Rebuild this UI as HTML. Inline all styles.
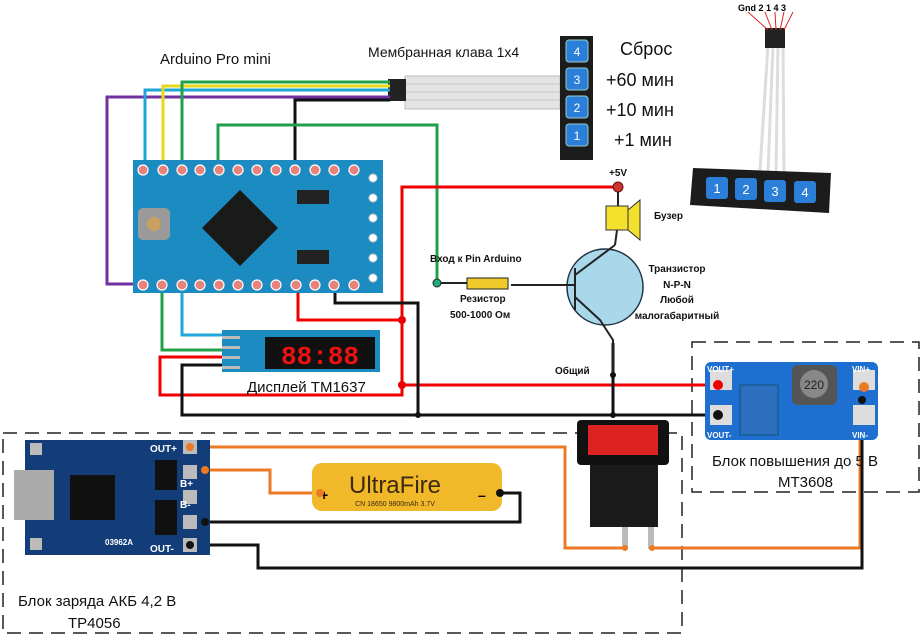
<!DOCTYPE html>
<html><head><meta charset="utf-8"><style>
html,body{margin:0;padding:0;background:#fff;width:921px;height:635px;overflow:hidden}
svg{display:block;font-family:"Liberation Sans","DejaVu Sans",sans-serif}
</style></head><body>
<svg width="921" height="635" viewBox="0 0 921 635">
<g fill="none" stroke="#222" stroke-width="1.5" stroke-dasharray="14,8">
<rect x="3" y="433" width="679" height="200"/>
<rect x="692" y="342" width="227" height="150"/>
</g>
<rect x="405" y="76" width="155" height="33" fill="#e4e4e4" stroke="#bbb"/>
<g stroke="#c8c8c8"><line x1="405" y1="84" x2="560" y2="84"/><line x1="405" y1="92" x2="560" y2="92"/><line x1="405" y1="100" x2="560" y2="100"/></g>
<rect x="388" y="79" width="18" height="22" fill="#222"/>
<rect x="560" y="36" width="33" height="124" fill="#1c1c1c"/>
<g fill="#2b7fd8" stroke="#9cc" stroke-width="1">
<rect x="566" y="40" width="22" height="22" rx="3"/><rect x="566" y="68" width="22" height="22" rx="3"/><rect x="566" y="96" width="22" height="22" rx="3"/><rect x="566" y="124" width="22" height="22" rx="3"/>
</g>
<g fill="#fff" font-size="12" text-anchor="middle"><text x="577" y="56">4</text><text x="577" y="84">3</text><text x="577" y="112">2</text><text x="577" y="140">1</text></g>
<g stroke="#ddd" stroke-width="3"><line x1="768" y1="45" x2="760" y2="170"/><line x1="773" y1="45" x2="768" y2="172"/><line x1="778" y1="45" x2="776" y2="173"/><line x1="783" y1="45" x2="784" y2="174"/></g>
<rect x="765" y="28" width="20" height="20" fill="#222"/>
<g stroke="#d22" stroke-width="1"><line x1="748" y1="12" x2="768" y2="30"/><line x1="765" y1="12" x2="772" y2="30"/><line x1="775" y1="12" x2="776" y2="30"/><line x1="784" y1="12" x2="780" y2="30"/><line x1="793" y1="12" x2="784" y2="30"/></g>
<text x="738" y="11" font-size="9" font-weight="bold">Gnd 2 1 4 3</text>
<polygon points="693,168 831,173 829,213 690,205" fill="#1c1c1c"/>
<g fill="#2b7fd8"><rect x="706" y="177" width="22" height="22" rx="3"/><rect x="735" y="178" width="22" height="22" rx="3"/><rect x="764" y="180" width="22" height="22" rx="3"/><rect x="794" y="181" width="22" height="22" rx="3"/></g>
<g fill="#fff" font-size="13" text-anchor="middle"><text x="717" y="193">1</text><text x="746" y="194">2</text><text x="775" y="196">3</text><text x="805" y="197">4</text></g>
<g fill="none" stroke-width="3">
<polyline stroke="#7030a0" points="143,284 107,284 107,97 390,97"/>
<polyline stroke="#1ea6d8" points="145,170 145,90 390,90"/>
<polyline stroke="#e8d81a" points="163,170 163,86 390,86"/>
<polyline stroke="#21a04a" points="182,170 182,82 390,82"/>
<polyline stroke="#111" points="295,170 295,100 390,100"/>
<polyline stroke="#21a04a" points="218,170 218,125 437,125 437,283"/>
<polyline stroke="#21a04a" points="162,285 162,350 222,350"/>
<polyline stroke="#1ea6d8" points="182,285 182,335 222,335"/>
<polyline stroke="#e00" points="298,285 298,320 402,320 402,187 618,187"/>
<polyline stroke="#e00" points="222,357 160,357 160,395 402,395 402,320"/>
<polyline stroke="#e00" points="402,385 716,385"/>
<polyline stroke="#111" points="222,365 182,365 182,415 716,415"/>
<polyline stroke="#111" points="335,285 335,303 418,303 418,415"/>
<polyline stroke="#111" points="613,343 613,415"/>
<polyline stroke="#ec7a25" points="190,447 565,447 565,548 625,548"/>
<polyline stroke="#ec7a25" points="652,548 860,548 860,387 865,387"/>
<polyline stroke="#ec7a25" points="205,470 270,470 270,493 320,493"/>
<polyline stroke="#111" points="500,493 520,493 520,522 205,522"/>
<polyline stroke="#111" points="190,545 258,545 258,568 862,568 862,400"/>
</g>
<rect x="133" y="160" width="250" height="133" fill="#1b8bc2"/>
<polygon points="240,190 278,228 240,266 202,228" fill="#1a1a1a"/>
<rect x="138" y="208" width="32" height="32" rx="5" fill="#9a9a9a"/><circle cx="154" cy="224" r="7" fill="#c9a060"/>
<rect x="297" y="190" width="32" height="14" fill="#222"/><rect x="297" y="250" width="32" height="14" fill="#222"/>
<g fill="#e7827d" stroke="#fff" stroke-width="1.2">
<circle cx="143" cy="170" r="5"/><circle cx="163" cy="170" r="5"/><circle cx="182" cy="170" r="5"/><circle cx="200" cy="170" r="5"/><circle cx="219" cy="170" r="5"/><circle cx="238" cy="170" r="5"/><circle cx="257" cy="170" r="5"/><circle cx="276" cy="170" r="5"/><circle cx="295" cy="170" r="5"/><circle cx="315" cy="170" r="5"/><circle cx="334" cy="170" r="5"/><circle cx="354" cy="170" r="5"/>
<circle cx="143" cy="285" r="5"/><circle cx="162" cy="285" r="5"/><circle cx="182" cy="285" r="5"/><circle cx="200" cy="285" r="5"/><circle cx="219" cy="285" r="5"/><circle cx="238" cy="285" r="5"/><circle cx="257" cy="285" r="5"/><circle cx="276" cy="285" r="5"/><circle cx="296" cy="285" r="5"/><circle cx="315" cy="285" r="5"/><circle cx="334" cy="285" r="5"/><circle cx="354" cy="285" r="5"/>
</g>
<g fill="#fff" stroke="#ccc"><circle cx="373" cy="178" r="4"/><circle cx="373" cy="198" r="4"/><circle cx="373" cy="218" r="4"/><circle cx="373" cy="238" r="4"/><circle cx="373" cy="258" r="4"/><circle cx="373" cy="278" r="4"/></g>
<rect x="222" y="330" width="158" height="42" fill="#1b8bc2"/>
<rect x="265" y="337" width="110" height="32" fill="#111"/>
<text x="320" y="364" fill="#e11" font-size="26" font-weight="bold" text-anchor="middle" font-family="Liberation Mono,monospace">88:88</text>
<g fill="#bbb"><rect x="222" y="336" width="18" height="3"/><rect x="222" y="346" width="18" height="3"/><rect x="222" y="356" width="18" height="3"/><rect x="222" y="366" width="18" height="3"/></g>
<circle cx="605" cy="287" r="38" fill="#a8d8ea" stroke="#234" stroke-width="1.5"/>
<g stroke="#222" stroke-width="2" fill="none"><line x1="575" y1="268" x2="575" y2="310"/><line x1="511" y1="285" x2="575" y2="285"/><line x1="575" y1="275" x2="615" y2="245"/><line x1="615" y1="245" x2="617" y2="230"/><polyline points="575,297 600,320 613,340 613,375"/><line x1="618" y1="187" x2="618" y2="206"/></g>
<line x1="437" y1="283" x2="467" y2="283" stroke="#222" stroke-width="2"/>
<rect x="467" y="278" width="41" height="11" fill="#f0c92a" stroke="#222"/>
<circle cx="437" cy="283" r="4" fill="#2a7" stroke="#222"/>
<circle cx="618" cy="187" r="5" fill="#c33" stroke="#611"/>
<rect x="606" y="206" width="22" height="24" fill="#f3e12e" stroke="#333"/><polygon points="628,210 640,200 640,240 628,230" fill="#f3e12e" stroke="#333"/>
<circle cx="613" cy="375" r="3" fill="#111"/><circle cx="613" cy="415" r="3" fill="#111"/>
<circle cx="402" cy="320" r="4" fill="#e00"/><circle cx="402" cy="385" r="4" fill="#e00"/><circle cx="418" cy="415" r="3" fill="#111"/>
<rect x="705" y="362" width="173" height="78" rx="6" fill="#1e6fd0"/>
<rect x="710" y="370" width="22" height="20" fill="#ddd"/><rect x="710" y="405" width="22" height="20" fill="#ddd"/><rect x="853" y="370" width="22" height="20" fill="#ddd"/><rect x="853" y="405" width="22" height="20" fill="#ddd"/>
<rect x="740" y="385" width="38" height="50" fill="#2c6fbf" stroke="#157"/>
<rect x="792" y="365" width="45" height="40" rx="6" fill="#555"/><circle cx="814" cy="384" r="14" fill="#888"/>
<text x="814" y="389" font-size="12" text-anchor="middle" fill="#222">220</text>
<circle cx="718" cy="385" r="5" fill="#e00"/><circle cx="718" cy="415" r="5" fill="#111"/><circle cx="864" cy="387" r="5" fill="#ec7a25"/><circle cx="862" cy="400" r="4" fill="#111"/>
<g fill="#fff" font-size="8" font-weight="bold"><text x="707" y="372">VOUT+</text><text x="707" y="438">VOUT-</text><text x="852" y="372">VIN+</text><text x="852" y="438">VIN-</text></g>
<rect x="25" y="440" width="185" height="115" fill="#123d78"/>
<rect x="14" y="470" width="40" height="50" fill="#aaa"/>
<rect x="70" y="475" width="45" height="45" fill="#111"/><rect x="155" y="460" width="22" height="30" fill="#111"/><rect x="155" y="500" width="22" height="35" fill="#111"/>
<g fill="#bbb"><rect x="183" y="440" width="14" height="14"/><rect x="183" y="465" width="14" height="14"/><rect x="183" y="490" width="14" height="14"/><rect x="183" y="515" width="14" height="14"/><rect x="183" y="538" width="14" height="14"/><rect x="30" y="443" width="12" height="12"/><rect x="30" y="538" width="12" height="12"/></g>
<g fill="#fff" font-size="10" font-weight="bold"><text x="150" y="452">OUT+</text><text x="180" y="487">B+</text><text x="180" y="508">B-</text><text x="150" y="552">OUT-</text><text x="105" y="545" font-size="8">03962A</text></g>
<circle cx="190" cy="447" r="4" fill="#ec7a25"/><circle cx="205" cy="470" r="4" fill="#ec7a25"/><circle cx="205" cy="522" r="4" fill="#111"/><circle cx="190" cy="545" r="4" fill="#111"/>
<rect x="312" y="463" width="190" height="48" rx="10" fill="#f1b92a"/>
<text x="395" y="493" font-size="24" fill="#3a2a10" text-anchor="middle">UltraFire</text>
<text x="395" y="506" font-size="7" fill="#3a2a10" text-anchor="middle">CN 18650 9800mAh 3.7V</text>
<text x="320" y="500" font-size="14" font-weight="bold">+</text><text x="478" y="500" font-size="14" font-weight="bold">–</text>
<circle cx="320" cy="493" r="4" fill="#ec7a25"/><circle cx="500" cy="493" r="4" fill="#111"/>
<rect x="577" y="420" width="92" height="45" rx="4" fill="#111"/><rect x="588" y="425" width="70" height="30" fill="#d22"/>
<rect x="590" y="465" width="68" height="62" fill="#1a1a1a"/>
<rect x="622" y="527" width="6" height="22" fill="#bbb"/><rect x="648" y="527" width="6" height="22" fill="#bbb"/>
<circle cx="625" cy="548" r="3" fill="#ec7a25"/><circle cx="652" cy="548" r="3" fill="#ec7a25"/>
<g fill="#111">
<text x="160" y="64" font-size="15">Arduino Pro mini</text>
<text x="368" y="57" font-size="14">Мембранная клава 1x4</text>
<text x="620" y="55" font-size="18">Сброс</text>
<text x="606" y="86" font-size="18">+60 мин</text>
<text x="606" y="116" font-size="18">+10 мин</text>
<text x="614" y="146" font-size="18">+1 мин</text>
<text x="609" y="176" font-size="10" font-weight="bold">+5V</text>
<text x="654" y="219" font-size="10" font-weight="bold">Бузер</text>
<text x="430" y="262" font-size="10" font-weight="bold">Вход к Pin Arduino</text>
<text x="460" y="302" font-size="10" font-weight="bold">Резистор</text>
<text x="450" y="318" font-size="10" font-weight="bold">500-1000 Ом</text>
<text x="677" y="272" font-size="10" font-weight="bold" text-anchor="middle">Транзистор</text>
<text x="677" y="288" font-size="10" font-weight="bold" text-anchor="middle">N-P-N</text>
<text x="677" y="303" font-size="10" font-weight="bold" text-anchor="middle">Любой</text>
<text x="677" y="319" font-size="10" font-weight="bold" text-anchor="middle">малогабаритный</text>
<text x="555" y="374" font-size="10" font-weight="bold">Общий</text>
<text x="247" y="392" font-size="15">Дисплей TM1637</text>
<text x="712" y="466" font-size="15">Блок повышения до 5 В</text>
<text x="778" y="487" font-size="15">MT3608</text>
<text x="18" y="606" font-size="15">Блок заряда АКБ 4,2 В</text>
<text x="68" y="628" font-size="15">TP4056</text>
</g>
</svg>
</body></html>
